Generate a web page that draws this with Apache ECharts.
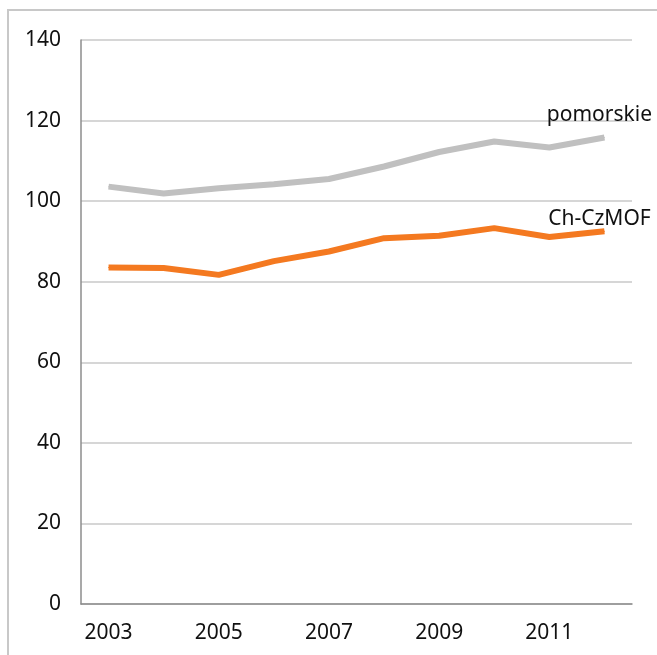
<!DOCTYPE html>
<html>
<head>
<meta charset="utf-8">
<script src="https://cdn.jsdelivr.net/npm/echarts@6/dist/echarts.min.js"></script>
<style>
  html, body { margin: 0; padding: 0; background: #fff; }
  #chart { width: 657px; height: 655px; }
</style>
</head>
<body>
<div id="chart"></div>
<script>
const years = ['2003', '2004', '2005', '2006', '2007', '2008', '2009', '2010', '2011', '2012'];
const pomorskie = [103.6, 101.9, 103.2, 104.2, 105.5, 108.6, 112.2, 114.8, 113.3, 115.8];
const chCzMOF = [83.5, 83.4, 81.7, 85.1, 87.5, 90.8, 91.4, 93.3, 91.1, 92.5];

const chart = echarts.init(document.getElementById('chart'));
const font = 'Noto Sans';

// podpis tylko przy ostatnim punkcie serii
const endLabel = (dist) => ({
  show: true,
  position: 'top',
  distance: dist,
  offset: [-5, 0],
  fontFamily: font,
  fontSize: 21,
  color: '#111',
  formatter: (p) => p.dataIndex === years.length - 1 ? p.seriesName : ''
});

chart.setOption({
  animation: false,
  textStyle: { fontFamily: font },
  graphic: [{
    type: 'rect',
    shape: { x: 8, y: 10, width: 720, height: 720 },
    style: { fill: 'none', stroke: '#c8c8c8', lineWidth: 2 },
    silent: true
  }],
  grid: { left: 81, top: 40, right: 25, bottom: 51 },
  xAxis: {
    type: 'category',
    data: years,
    boundaryGap: true,
    axisLine: { show: true, lineStyle: { color: '#8c8c8c', width: 1.5 } },
    axisTick: { show: false },
    axisLabel: { interval: 1, margin: 19, fontSize: 21, color: '#111', fontFamily: font }
  },
  yAxis: {
    type: 'value',
    min: 0,
    max: 140,
    interval: 20,
    axisLine: { show: true, lineStyle: { color: '#8c8c8c', width: 1.5 } },
    axisTick: { show: false },
    splitLine: { lineStyle: { color: '#c8c8c8', width: 1.5 } },
    axisLabel: { margin: 20, fontSize: 21, color: '#111', fontFamily: font }
  },
  series: [
    {
      name: 'pomorskie',
      type: 'line',
      data: pomorskie,
      symbol: 'circle',
      symbolSize: 1,
      lineStyle: { color: '#c0c0c0', width: 6 },
      itemStyle: { color: '#c0c0c0' },
      label: endLabel(11)
    },
    {
      name: 'Ch-CzMOF',
      type: 'line',
      data: chCzMOF,
      symbol: 'circle',
      symbolSize: 1,
      lineStyle: { color: '#f47920', width: 6 },
      itemStyle: { color: '#f47920' },
      label: endLabel(1)
    }
  ]
});
</script>
</body>
</html>
